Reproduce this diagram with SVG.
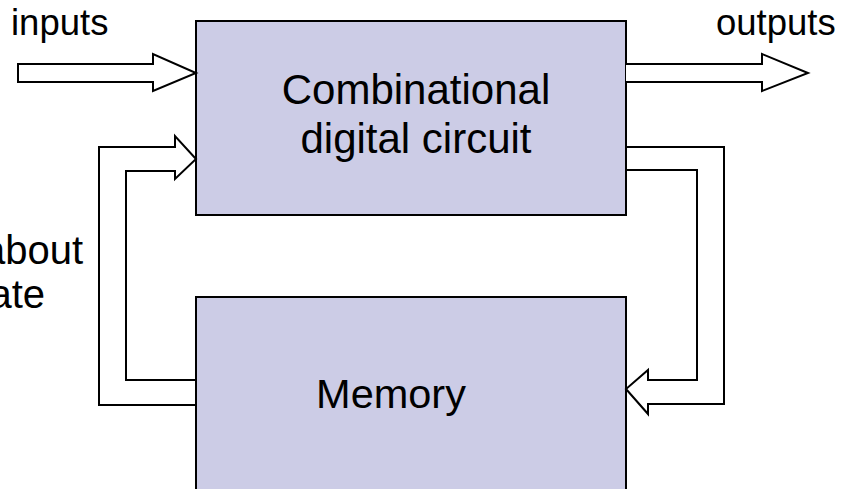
<svg xmlns="http://www.w3.org/2000/svg" width="842" height="489" viewBox="0 0 842 489">
<style>
.box{fill:#CCCCE6;stroke:#000;stroke-width:2}
.arrow{fill:#fff;stroke:#000;stroke-width:2;stroke-linejoin:miter}
.t{font-family:"Liberation Sans",Arial,sans-serif;fill:#000}
</style>
<rect width="842" height="489" fill="#fff"/>
<g id="combinational">
<rect class="box" x="196" y="21" width="430" height="194"/>
<text class="t" x="416" y="104" font-size="42" text-anchor="middle">Combinational</text>
<text class="t" x="416" y="153" font-size="42" text-anchor="middle">digital circuit</text>
</g>
<g id="memory">
<rect class="box" x="196" y="297" width="430" height="220"/>
<text class="t" x="391" y="408" font-size="41.5" text-anchor="middle">Memory</text>
</g>
<g id="connectors">
<polygon class="arrow" points="18,64 153,64 153,54 196,73 153,91 153,82 18,82"/>
<polyline class="arrow" points="626,64 762,64 762,54 808,73 762,91 762,82 626,82"/>
<polyline class="arrow" style="fill:none" points="196,405 99,405 99,147 175,147 175,136 196,159 175,179 175,171 126,171 126,380 196,380"/>
<polyline class="arrow" style="fill:none" points="626,147 724,147 724,404 648,404 648,414 626,389 648,370 648,380 697,380 697,170 626,170"/>
</g>
<g id="labels">
<text class="t" x="11" y="35" font-size="36.5">inputs</text>
<text class="t" x="716" y="35" font-size="36.5">outputs</text>
<text class="t" x="83" y="264" font-size="40" text-anchor="end">about</text>
<text class="t" x="45" y="308" font-size="40" text-anchor="end">ate</text>
</g>
</svg>
